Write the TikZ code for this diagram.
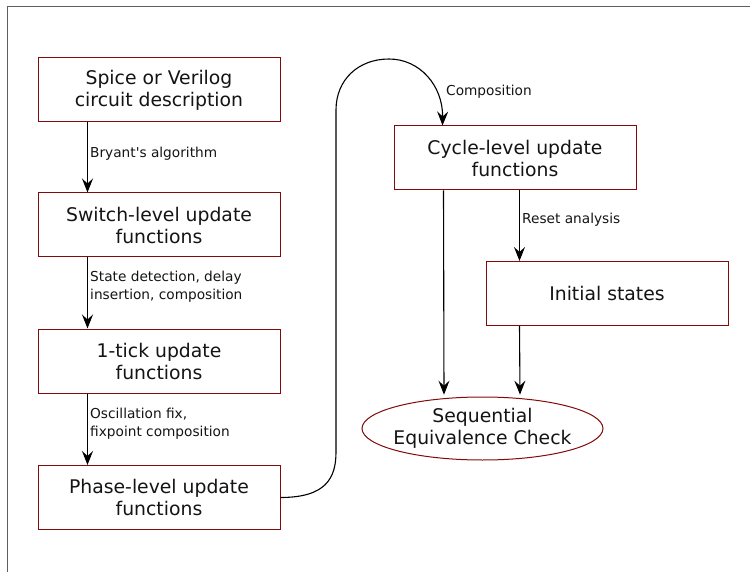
\documentclass[tikz,border=0pt]{standalone}
\usepackage{fontspec}
\setmainfont{DejaVu Sans}[Ligatures=TeXOff]
\usetikzlibrary{arrows.meta,shapes.geometric}
\definecolor{boxred}{RGB}{130,10,10}
\definecolor{framegray}{RGB}{95,95,95}
\definecolor{txt}{RGB}{20,20,20}
\tikzset{
  stepbox/.style={draw=boxred, line width=1pt, fill=white, minimum width=242pt, minimum height=64pt,
    inner sep=0pt, align=center, text=txt, font=\fontsize{18.8}{22}\selectfont},
  endell/.style={ellipse, draw=boxred, line width=1pt, minimum width=241pt, minimum height=63pt,
    inner xsep=-25pt, inner ysep=-3pt, align=center, text=txt, font=\fontsize{18.8}{22}\selectfont},
  lbl/.style={anchor=west, align=left, inner sep=0pt, text=txt, font=\fontsize{13.7}{18}\selectfont},
  arr/.style={draw=black, line width=1.1pt, -{Stealth[length=14pt, width=11pt, inset=5pt]}},
}
\begin{document}
\begin{tikzpicture}[x=1pt, y=-1pt]
\useasboundingbox (0,0) rectangle (750,572);
\draw[framegray, line width=1.4pt] (7.5,572) -- (7.5,6.7) -- (750,6.7);

\node[stepbox] (b1) at (159,90) {Spice or Verilog\\circuit description};
\node[stepbox] (b2) at (159,225) {Switch-level update\\functions};
\node[stepbox] (b3) at (159,361) {1-tick update\\functions};
\node[stepbox] (b4) at (159,497.5) {Phase-level update\\functions};
\node[stepbox] (cyc) at (515,158) {Cycle-level update\\functions};
\node[stepbox] (ini) at (607,293.5) {Initial states};
\node[endell] (seq) at (482.5,428.5) {Sequential\\Equivalence Check};

\draw[arr] ([xshift=50pt]b1.south west) -- ([xshift=50pt]b2.north west);
\draw[arr] ([xshift=50pt]b2.south west) -- ([xshift=50pt]b3.north west);
\draw[arr] ([xshift=50pt]b3.south west) -- ([xshift=50pt]b4.north west);

\node[lbl] (l1) at (90,154) {Bryant's algorithm};
\node[lbl] (l2) at (90,287) {State detection, delay\\insertion, composition};
\node[lbl] (l3) at (90,424) {Oscillation fix,\\fixpoint composition};

\coordinate (c1) at (336,452);
\coordinate (c2) at (336,110);
\coordinate (c3) at (389,59);
\draw[arr] (b4.east) .. controls (326,497.5) and (336,478) .. (c1) -- (c2)
  .. controls (336,80) and (358,59) .. (c3)
  .. controls (420,59) and (443,86) .. ([xshift=49pt]cyc.north west);
\node[lbl] (l4) at (446,92) {Composition};

\draw[arr] ([xshift=126pt]cyc.south west) -- ([xshift=34pt]ini.north west);
\node[lbl] (l5) at (522,220) {Reset analysis};

\draw[arr] ([xshift=50pt]cyc.south west) -- ([xshift=-38.5pt,yshift=1.8pt]seq.north);
\draw[arr] ([xshift=34pt]ini.south west) -- ([xshift=37.5pt,yshift=1.8pt]seq.north);
\end{tikzpicture}
\end{document}
